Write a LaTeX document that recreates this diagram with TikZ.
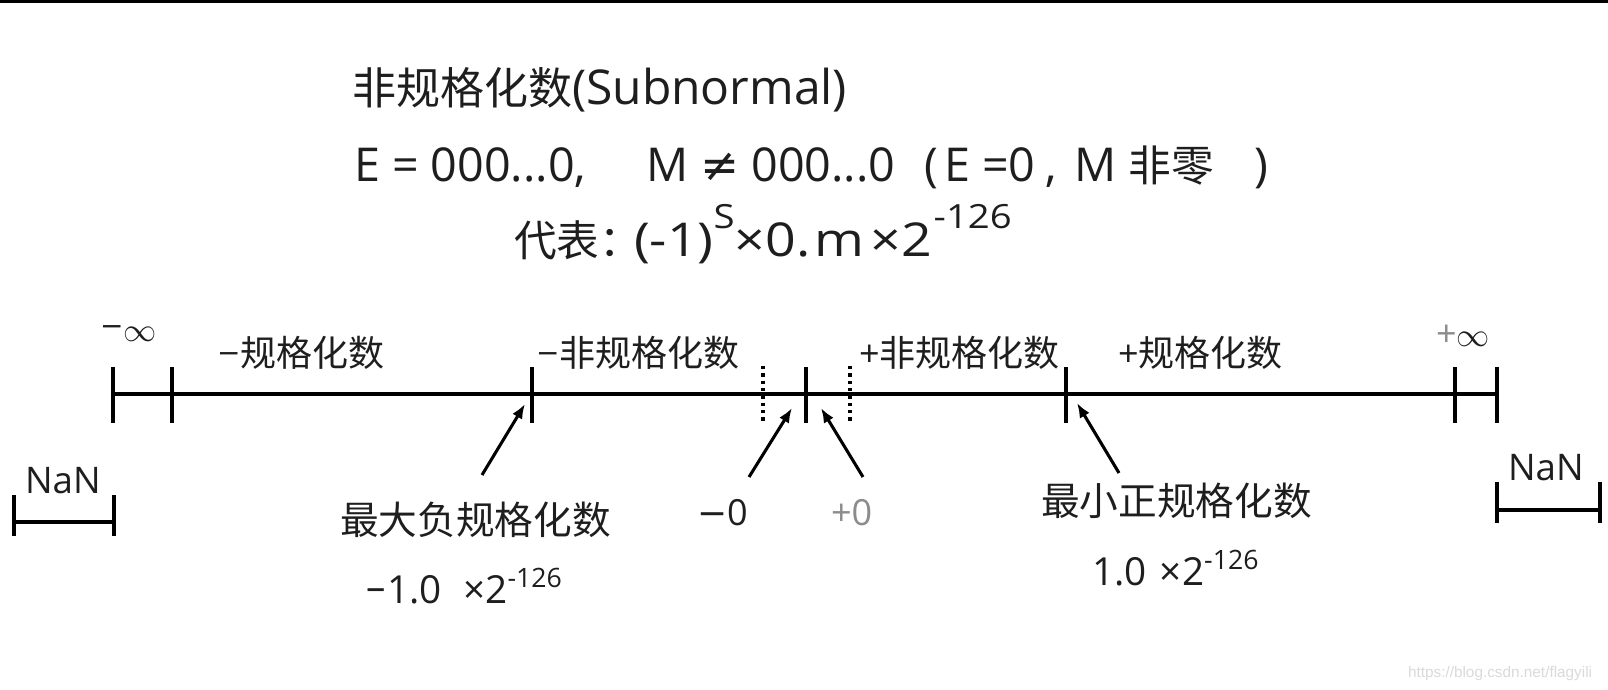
\documentclass[tikz,border=0pt]{standalone}
\usepackage{fontspec}
\setmainfont{Open Sans}
\newfontfamily\cjkf{Noto Sans CJK SC}
\newfontfamily\symf{DejaVu Sans}
\newfontfamily\wmf{Liberation Sans}
\newfontfamily\widef{Open Sans}[FakeStretch=1.15]
\usetikzlibrary{arrows.meta}
\newcommand\zh[1]{{\cjkf #1}}
\newcommand\zhb[1]{{\cjkf\fontsize{32}{32}\selectfont #1}}
\newcommand\sy[1]{{\symf #1}}
\newcommand\fs[1]{\fontsize{#1}{#1}\selectfont}
\newcommand\supr[3]{\raisebox{#2}{\fontsize{#1}{#1}\selectfont #3}}
\newcommand\mn{\raisebox{3pt}{\symf\fontsize{21}{21}\selectfont −}}
\definecolor{ink}{HTML}{1E1E1E}
\definecolor{soft}{HTML}{8C8C8C}
\definecolor{wm}{HTML}{DADADA}
\begin{document}
\begin{tikzpicture}[x=0.75pt,y=-0.75pt,
  axis/.style={line width=2.8pt,black},
  tickmark/.style={line width=2.5pt,black},
  dots/.style={line width=2.6pt,black,dash pattern=on 2.4pt off 3.1pt},
  ptr/.style={line width=2.3pt,black,-{Latex[length=11pt,width=8.5pt]}},
  bracket/.style={line width=2.5pt,black},
  lbl/.style={inner sep=0pt,outer sep=0pt,anchor=base west,text=ink},
  big/.style={lbl,font=\fs{35}},
  seg/.style={lbl,font=\fs{27}},
  note/.style={lbl,font=\fs{29}},
  num/.style={lbl,font=\fs{29}}]
\useasboundingbox (0,0) rectangle (1608,689);
\fill[white] (0,0) rectangle (1608,689);
\fill[black] (0,0) rectangle (1608,2.5);

% header text
\node[big,font=\fs{36}] (title) at (352,104) {{\cjkf\fs{33}非规格化数}(Subnormal)};
\node[big] (e2) at (354,181) {\makebox[219pt][l]{E = 000...0,}\makebox[209.25pt][l]{M \sy{≠} 000...0}\makebox[90pt][l]{(\hspace{4pt}E =0}\makebox[22pt][l]{,}\makebox[134.75pt][l]{M \zhb{非零}})};
\node[big,font=\widef\fs{35}] (rep) at (514,256) {\zhb{代表：}\hspace{-6pt}(-1)\supr{25}{21pt}{S}×0.\hspace{3pt}m\hspace{5pt}×2\hspace{1pt}\supr{25}{21pt}{-126}};

% number line
\coordinate (L) at (113,394);
\coordinate (R) at (1497,394);
\draw[axis] (L) -- (R);
\foreach \n/\x in {t1/113,t2/172,t3/532,t4/806,t5/1066,t6/1455,t7/1497}{
  \coordinate (\n) at (\x,394);
  \draw[tickmark] (\x,367) -- (\x,423);
}
\draw[dots] (763,366) -- (763,424);
\draw[dots] (850,366) -- (850,424);

% segment labels
\node[lbl,font=\fs{27}] (ninf) at (100,341) {\raisebox{4pt}{\symf\fs{21}−}$\infty$};
\node[lbl,font=\fs{27}] (pinf) at (1436,346) {\textcolor{soft}{+}$\infty$};
\node[seg] (nnorm) at (217,366) {\mn\zh{规格化数}};
\node[seg] (nsub) at (536,366) {\mn\zh{非规格化数}};
\node[seg] (psub) at (859,366) {+\zh{非规格化数}};
\node[seg] (pnorm) at (1118,366) {+\zh{规格化数}};

% NaN brackets
\node[lbl,font=\fs{27.5}] (nanl) at (25,493) {NaN};
\draw[bracket] (14,495) -- (14,536);
\draw[bracket] (114,495) -- (114,536);
\draw[bracket] (14,522) -- (114,522);
\node[lbl,font=\fs{27.5}] (nanr) at (1508,480) {NaN};
\draw[bracket] (1497,482) -- (1497,523);
\draw[bracket] (1600,482) -- (1600,523);
\draw[bracket] (1497,510) -- (1600,510);

% bottom labels
\node[note] (maxneg) at (340,534) {\zh{最大负规格化数}};
\node[num] (maxnegv) at (366,603) {\makebox[16pt][l]{\raisebox{2pt}{–}}\makebox[57pt][l]{1.0}×2\supr{20}{12pt}{-126}};
\node[num,font=\fs{27}] (mzero) at (697,525) {\sy{−}0};
\node[num,font=\fs{27},text=soft] (pzero) at (831,525) {+0};
\node[note] (minpos) at (1041,515) {\zh{最小正规格化数}};
\node[num] (minposv) at (1092,585) {\makebox[51pt][l]{1.0}×2\supr{20}{12pt}{-126}};

% arrows
\coordinate (a1s) at (482,475); \coordinate (a1e) at (525,404);
\coordinate (a2s) at (749,477); \coordinate (a2e) at (792,408);
\coordinate (a3s) at (863,477); \coordinate (a3e) at (821,408);
\coordinate (a4s) at (1119,473); \coordinate (a4e) at (1077,403);
\draw[ptr] (a1s) -- (a1e);
\draw[ptr] (a2s) -- (a2e);
\draw[ptr] (a3s) -- (a3e);
\draw[ptr] (a4s) -- (a4e);

% watermark
\node[lbl,font=\wmf\fs{11.5},text=wm] (wmk) at (1408,677) {https://blog.csdn.net/flagyili};
\end{tikzpicture}
\end{document}
